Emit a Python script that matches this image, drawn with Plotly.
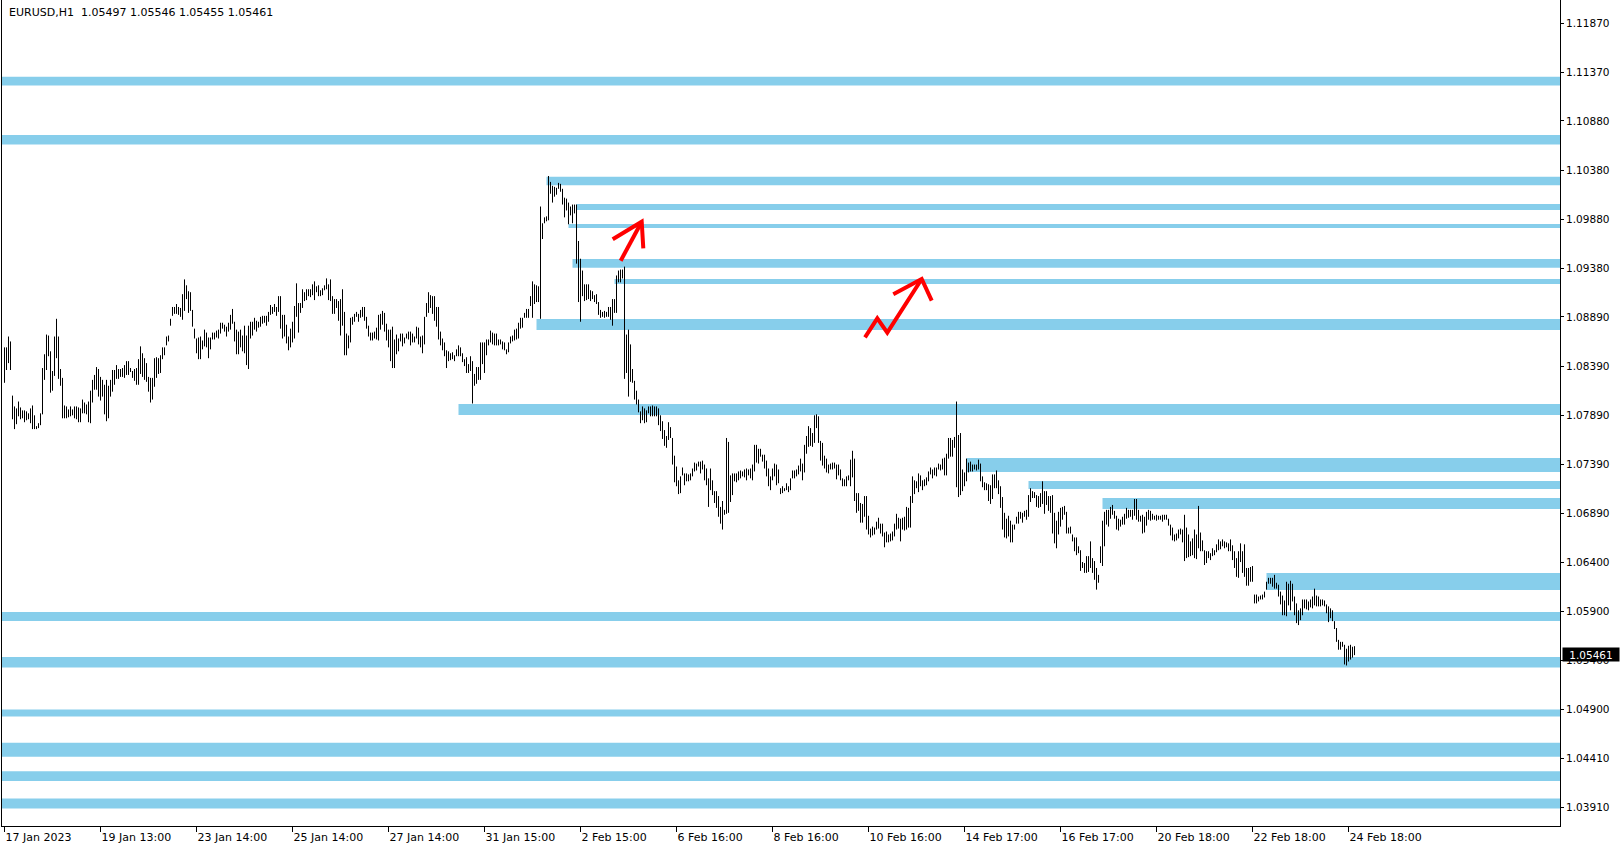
import plotly.graph_objects as go

# ---------------- data ----------------
symbol_title = "EURUSD,H1\u00a0\u00a01.05497 1.05546 1.05455 1.05461"
last_price = 1.05461

highs = [
    1.0858,1.0858,1.0869,1.0864,1.0809,1.0798,1.0796,1.0803,1.0797,1.0794,
    1.0794,1.0793,1.0791,1.0796,1.0799,1.0789,1.0778,1.0781,1.0791,1.0837,
    1.0851,1.0871,1.0870,1.0854,1.0834,1.0869,1.0887,1.0869,1.0836,1.0827,
    1.0799,1.0798,1.0795,1.0798,1.0795,1.0798,1.0798,1.0797,1.0796,1.0805,
    1.0802,1.0800,1.0803,1.0814,1.0825,1.0830,1.0838,1.0836,1.0828,1.0825,
    1.0820,1.0825,1.0819,1.0825,1.0835,1.0835,1.0840,1.0836,1.0836,1.0837,
    1.0840,1.0844,1.0844,1.0837,1.0834,1.0836,1.0837,1.0846,1.0859,1.0852,
    1.0847,1.0842,1.0828,1.0827,1.0827,1.0847,1.0848,1.0847,1.0850,1.0858,
    1.0858,1.0869,1.0870,1.0887,1.0899,1.0899,1.0902,1.0899,1.0898,1.0912,
    1.0927,1.0921,1.0915,1.0914,1.0896,1.0877,1.0867,1.0868,1.0869,1.0865,
    1.0876,1.0873,1.0868,1.0868,1.0873,1.0873,1.0875,1.0876,1.0883,1.0883,
    1.0881,1.0879,1.0883,1.0891,1.0897,1.0884,1.0876,1.0874,1.0876,1.0870,
    1.0880,1.0870,1.0880,1.0884,1.0884,1.0888,1.0885,1.0884,1.0889,1.0890,1.0890,
    1.0890,1.0894,1.0901,1.0899,1.0902,1.0899,1.0910,1.0910,1.0891,1.0891,
    1.0881,1.0869,1.0877,1.0884,1.0900,1.0923,1.0903,1.0903,1.0917,1.0914,
    1.0917,1.0917,1.0917,1.0922,1.0925,1.0920,1.0921,1.0916,1.0918,1.0921,
    1.0928,1.0922,1.0927,1.0910,1.0907,1.0907,1.0905,1.0907,1.0917,1.0894,
    1.0872,1.0870,1.0888,1.0889,1.0892,1.0894,1.0892,1.0896,1.0899,1.0899,
    1.0889,1.0880,1.0873,1.0873,1.0874,1.0878,1.0891,1.0892,1.0895,1.0893,
    1.0882,1.0876,1.0876,1.0879,1.0866,1.0871,1.0867,1.0872,1.0872,1.0868,
    1.0872,1.0874,1.0874,1.0872,1.0869,1.0879,1.0878,1.0869,1.0870,1.0889,
    1.0903,1.0914,1.0911,1.0910,1.0910,1.0899,1.0899,1.0874,1.0867,1.0863,
    1.0855,1.0854,1.0852,1.0853,1.0850,1.0856,1.0860,1.0858,1.0852,1.0846,
    1.0848,1.0841,1.0849,1.0844,1.0831,1.0838,1.0838,1.0863,1.0863,1.0863,
    1.0866,1.0866,1.0875,1.0873,1.0872,1.0872,1.0866,1.0866,1.0864,1.0863,
    1.0856,1.0863,1.0869,1.0870,1.0876,1.0877,1.0883,1.0888,1.0888,1.0893,
    1.0897,1.0897,1.0910,1.0925,
    1.0922,1.0921,1.0920,1.1001,1.0984,1.0990,1.0991,1.1032,1.1026,1.1022,
    1.1021,1.1020,1.1025,1.1024,1.1019,1.1010,1.1009,1.1005,1.1001,1.1003,
    1.1003,1.1003,1.0966,1.0948,1.0936,1.0922,1.0922,1.0922,1.0916,1.0915,
    1.0911,1.0912,1.0904,1.0896,1.0894,1.0895,1.0894,1.0899,1.0899,1.0907,
    1.0907,1.0931,1.0936,1.0937,1.0937,1.0940,1.0871,1.0876,1.0861,1.0836,
    1.0824,1.0814,1.0805,1.0793,1.0798,1.0796,1.0794,1.0798,1.0798,1.0799,
    1.0798,1.0798,1.0796,1.0789,1.0783,1.0774,1.0768,1.0782,1.0777,1.0766,
    1.0748,1.0737,1.0723,1.0727,1.0736,1.0730,1.0730,1.0729,1.0730,1.0735,
    1.0741,1.0740,1.0742,1.0742,1.0743,1.0739,1.0735,1.0725,1.0735,1.0723,
    1.0712,1.0712,1.0707,1.0696,1.0702,1.0693,1.0766,1.0762,1.0728,1.0730,
    1.0730,1.0730,1.0732,1.0733,1.0732,1.0734,1.0735,1.0734,1.0735,1.0739,
    1.0759,1.0759,1.0755,1.0755,1.0749,1.0749,1.0743,1.0735,1.0727,1.0735,
    1.0740,1.0739,1.0734,1.0715,1.0717,1.0715,1.0720,1.0717,1.0725,1.0733,
    1.0733,1.0734,1.0738,
    1.0745,1.0740,1.0759,1.0768,1.0778,1.0776,1.0771,1.0789,1.0790,1.0788,
    1.0763,1.0761,1.0748,1.0745,1.0739,1.0740,1.0741,1.0741,1.0739,1.0739,
    1.0734,1.0725,1.0724,1.0727,1.0728,1.0744,1.0753,1.0745,1.0710,1.0710,
    1.0700,1.0699,1.0707,1.0707,1.0687,1.0674,1.0676,1.0675,1.0681,1.0685,
    1.0679,1.0679,1.0670,1.0671,1.0668,1.0669,1.0671,1.0679,1.0689,1.0685,
    1.0684,1.0685,1.0686,1.0696,1.0695,1.0707,1.0727,1.0723,1.0722,1.0730,
    1.0728,1.0723,1.0724,1.0726,1.0732,1.0736,1.0734,1.0736,1.0736,1.0740,
    1.0739,1.0745,1.0746,1.0750,1.0766,1.0766,1.0764,1.0767,1.0803,1.0769,
    1.0771,1.0734,1.0731,1.0745,1.0741,1.0742,1.0739,1.0739,1.0739,1.0744,
    1.0740,1.0727,1.0721,1.0720,1.0719,1.0718,1.0729,1.0729,1.0733,1.0723,
    1.0717,1.0706,1.0690,1.0684,1.0687,1.0682,1.0678,1.0678,1.0686,1.0691,
    1.0691,1.0690,1.0692,1.0693,1.0708,1.0715,1.0712,1.0711,1.0708,1.0707,
    1.0710,1.0722,1.0712,1.0712,1.0707,1.0707,1.0708,1.0690,1.0682,1.0691,
    1.0695,1.0696,1.0697,1.0691,1.0675,
    1.0676,1.0668,1.0665,1.0665,1.0656,1.0652,1.0640,1.0639,1.0646,1.0646,
    1.0661,1.0644,1.0641,1.0634,1.0627,1.0656,1.0682,1.0691,1.0693,1.0693,
    1.0696,1.0698,1.0692,1.0687,1.0684,1.0683,1.0686,1.0689,1.0695,1.0693,
    1.0693,1.0693,1.0704,1.0704,1.0693,1.0687,1.0688,1.0686,1.0691,1.0693,
    1.0692,1.0689,1.0687,1.0688,1.0687,1.0687,1.0688,1.0688,1.0688,1.0684,
    1.0678,1.0675,1.0668,1.0669,1.0673,1.0674,1.0673,1.0688,1.0675,1.0668,
    1.0661,1.0664,1.0673,1.0668,1.0697,1.0670,1.0662,1.0652,1.0651,1.0651,
    1.0649,1.0654,1.0652,1.0658,1.0663,1.0661,1.0663,1.0661,1.0660,1.0659,
    1.0663,1.0657,1.0651,1.0644,1.0651,1.0659,1.0651,1.0658,1.0634,1.0634,
    1.0635,1.0636,1.0607,1.0607,1.0605,1.0606,1.0607,1.0610,1.0620,1.0624,
    1.0624,1.0624,1.0627,1.0619,1.0617,1.0610,1.0606,1.0601,1.0620,1.0618,
    1.0621,1.0618,1.0605,1.0598,1.0591,1.0593,1.0602,1.0602,1.0602,1.0600,
    1.0602,1.0605,1.0613,1.0606,1.0605,1.0602,1.0602,1.0601,1.0597,1.0595,
    1.0593,1.0591,1.0580,1.0573,1.0561,1.0559,1.0559,
    1.0556,1.0552,1.0555,1.0556,1.0554,1.05546,
]

lows = [
    1.0822,1.0835,1.0842,1.0835,1.0785,1.0775,1.0780,1.0788,1.0785,1.0786,
    1.0782,1.0784,1.0785,1.0781,1.0775,1.0775,1.0775,1.0776,1.0779,1.0790,
    1.0825,1.0835,1.0849,1.0812,1.0814,1.0829,1.0847,1.0826,1.0819,1.0786,
    1.0786,1.0786,1.0787,1.0788,1.0789,1.0786,1.0785,1.0782,1.0782,1.0791,
    1.0791,1.0790,1.0782,1.0781,1.0802,1.0815,1.0815,1.0808,1.0804,1.0808,
    1.0790,1.0783,1.0786,1.0808,1.0813,1.0820,1.0826,1.0826,1.0828,1.0828,
    1.0827,1.0830,1.0830,1.0833,1.0827,1.0824,1.0820,1.0820,1.0831,1.0828,
    1.0825,1.0823,1.0813,1.0802,1.0805,1.0818,1.0827,1.0831,1.0832,1.0846,
    1.0850,1.0860,1.0864,1.0880,1.0890,1.0892,1.0892,1.0891,1.0889,1.0886,
    1.0895,1.0907,1.0893,1.0895,1.0879,1.0867,1.0852,1.0846,1.0846,1.0856,
    1.0859,1.0858,1.0847,1.0856,1.0866,1.0866,1.0868,1.0867,1.0872,1.0877,
    1.0874,1.0869,1.0874,1.0876,1.0882,1.0864,1.0851,1.0851,1.0858,1.0854,
    1.0852,1.0840,1.0836,1.0867,1.0870,1.0876,1.0874,1.0878,1.0879,1.0882,1.0883,
    1.0880,1.0884,1.0891,1.0892,1.0894,1.0890,1.0894,1.0877,1.0867,1.0869,
    1.0862,1.0855,1.0858,1.0863,1.0867,1.0889,1.0873,1.0893,1.0898,1.0905,
    1.0906,1.0910,1.0909,1.0911,1.0906,1.0914,1.0910,1.0910,1.0911,1.0916,
    1.0917,1.0906,1.0905,1.0892,1.0892,1.0898,1.0885,1.0870,1.0880,1.0850,
    1.0850,1.0857,1.0863,1.0881,1.0884,1.0889,1.0884,1.0888,1.0889,1.0885,
    1.0877,1.0869,1.0865,1.0865,1.0867,1.0866,1.0865,1.0876,1.0881,1.0874,
    1.0865,1.0858,1.0844,1.0837,1.0837,1.0851,1.0854,1.0864,1.0859,1.0862,
    1.0867,1.0866,1.0860,1.0863,1.0863,1.0867,1.0861,1.0858,1.0852,1.0861,
    1.0889,1.0893,1.0898,1.0892,1.0885,1.0879,1.0866,1.0860,1.0855,1.0849,
    1.0837,1.0844,1.0845,1.0846,1.0844,1.0849,1.0849,1.0849,1.0843,1.0839,
    1.0832,1.0832,1.0834,1.0801,1.0819,1.0821,1.0825,1.0825,1.0841,1.0832,
    1.0850,1.0860,1.0863,1.0861,1.0860,1.0860,1.0860,1.0861,1.0856,1.0855,
    1.0851,1.0853,1.0862,1.0864,1.0865,1.0866,1.0867,1.0877,1.0878,1.0888,
    1.0888,1.0888,1.0900,1.0888,
    1.0902,1.0904,1.0904,1.0887,1.0968,1.0984,1.0986,1.0987,1.1014,1.1005,
    1.1011,1.1013,1.1019,1.1016,1.1003,1.0990,1.0997,1.0983,1.0992,1.0984,
    1.0994,1.0943,1.0904,1.0884,1.0910,1.0905,1.0906,1.0907,1.0905,1.0907,
    1.0904,1.0902,1.0891,1.0888,1.0889,1.0888,1.0889,1.0889,1.0886,1.0880,
    1.0893,1.0893,1.0924,1.0924,1.0928,1.0826,1.0832,1.0808,1.0823,1.0822,
    1.0805,1.0800,1.0792,1.0781,1.0784,1.0781,1.0782,1.0791,1.0788,1.0788,
    1.0788,1.0788,1.0779,1.0773,1.0765,1.0758,1.0756,1.0764,1.0766,1.0739,
    1.0721,1.0717,1.0709,1.0710,1.0728,1.0718,1.0722,1.0722,1.0723,1.0727,
    1.0732,1.0733,1.0737,1.0730,1.0734,1.0723,1.0718,1.0696,1.0713,1.0708,
    1.0700,1.0695,1.0686,1.0679,1.0673,1.0688,1.0689,1.0690,1.0701,1.0708,
    1.0722,1.0721,1.0723,1.0725,1.0727,1.0726,1.0723,1.0728,1.0725,1.0723,
    1.0732,1.0741,1.0740,1.0747,1.0742,1.0735,1.0727,1.0717,1.0713,1.0723,
    1.0727,1.0718,1.0720,1.0709,1.0710,1.0712,1.0713,1.0711,1.0713,1.0725,
    1.0725,1.0727,1.0729,
    1.0732,1.0723,1.0731,1.0750,1.0757,1.0758,1.0757,1.0761,1.0776,1.0761,
    1.0743,1.0738,1.0735,1.0731,1.0730,1.0734,1.0734,1.0735,1.0724,1.0728,
    1.0723,1.0717,1.0717,1.0717,1.0723,1.0717,1.0726,1.0702,1.0690,1.0692,
    1.0680,1.0680,1.0686,1.0673,1.0668,1.0665,1.0667,1.0668,1.0673,1.0674,
    1.0669,1.0666,1.0655,1.0660,1.0660,1.0661,1.0662,1.0666,1.0673,1.0674,
    1.0661,1.0673,1.0672,1.0673,1.0675,1.0675,1.0700,1.0709,1.0715,1.0711,
    1.0717,1.0713,1.0717,1.0718,1.0722,1.0729,1.0725,1.0728,1.0727,1.0734,
    1.0733,1.0734,1.0728,1.0728,1.0745,1.0747,1.0747,1.0756,1.0716,1.0706,
    1.0708,1.0712,1.0717,1.0722,1.0731,1.0732,1.0732,1.0734,1.0733,1.0734,
    1.0722,1.0716,1.0713,1.0713,1.0702,1.0699,1.0704,1.0715,1.0715,1.0709,
    1.0695,1.0673,1.0665,1.0664,1.0666,1.0660,1.0660,1.0673,1.0679,1.0679,
    1.0684,1.0680,1.0686,1.0683,1.0686,1.0701,1.0705,1.0705,1.0696,1.0695,
    1.0696,1.0699,1.0689,1.0698,1.0692,1.0690,1.0669,1.0659,1.0654,1.0668,
    1.0676,1.0683,1.0688,1.0669,1.0669,
    1.0669,1.0661,1.0651,1.0647,1.0649,1.0631,1.0634,1.0629,1.0629,1.0630,
    1.0634,1.0629,1.0622,1.0612,1.0619,1.0639,1.0636,1.0656,1.0678,1.0676,
    1.0684,1.0688,1.0684,1.0673,1.0672,1.0676,1.0678,1.0678,1.0684,1.0685,
    1.0686,1.0683,1.0687,1.0683,1.0681,1.0681,1.0669,1.0670,1.0677,1.0683,
    1.0682,1.0683,1.0683,1.0682,1.0683,1.0683,1.0681,1.0683,1.0683,1.0677,
    1.0667,1.0662,1.0661,1.0662,1.0664,1.0668,1.0660,1.0641,1.0644,1.0645,
    1.0646,1.0647,1.0644,1.0643,1.0654,1.0651,1.0651,1.0637,1.0639,1.0644,
    1.0642,1.0646,1.0647,1.0650,1.0652,1.0653,1.0656,1.0654,1.0655,1.0651,
    1.0651,1.0642,1.0634,1.0625,1.0624,1.0640,1.0629,1.0625,1.0616,1.0616,
    1.0620,1.0620,1.0598,1.0598,1.0600,1.0602,1.0602,1.0604,1.0612,1.0618,
    1.0618,1.0615,1.0613,1.0613,1.0605,1.0597,1.0586,1.0586,1.0585,1.0596,
    1.0591,1.0600,1.0586,1.0578,1.0576,1.0581,1.0586,1.0593,1.0592,1.0591,
    1.0594,1.0593,1.0596,1.0595,1.0595,1.0595,1.0596,1.0595,1.0588,1.0579,
    1.0583,1.0580,1.0572,1.0559,1.0551,1.0551,1.0554,
    1.0536,1.0535,1.0539,1.0541,1.0543,1.05455,
]

# time-axis labels (bar index of each label)
tick_bars = [0, 48, 96, 144, 192, 240, 288, 336, 384, 432, 480, 528, 576, 624, 672]
tick_labels = ["17 Jan 2023", "19 Jan 13:00", "23 Jan 14:00", "25 Jan 14:00",
               "27 Jan 14:00", "31 Jan 15:00", "2 Feb 15:00", "6 Feb 16:00",
               "8 Feb 16:00", "10 Feb 16:00", "14 Feb 17:00", "16 Feb 17:00",
               "20 Feb 18:00", "22 Feb 18:00", "24 Feb 18:00"]

price_ticks = [1.11870, 1.11370, 1.10880, 1.10380, 1.09880, 1.09380, 1.08890,
               1.08390, 1.07890, 1.07390, 1.06890, 1.06400, 1.05900, 1.05400,
               1.04900, 1.04410, 1.03910]

# support / resistance zones (start bar, None = whole chart)
zone_start = [None, None, 271, 286, 282, 284, 305, 266, 227, 481, 512, 549, 631,
              None, None, None, None, None, None]
zone_top = [1.11328, 1.10736, 1.10313, 1.10035, 1.09832, 1.09477, 1.09274, 1.08868,
            1.08005, 1.07457, 1.07223, 1.07050, 1.06289, 1.05893, 1.05436, 1.04903,
            1.04566, 1.04276, 1.03999]
zone_bottom = [1.11240, 1.10641, 1.10225, 1.09974, 1.09792, 1.09389, 1.09223, 1.08756,
               1.07893, 1.07314, 1.07142, 1.06939, 1.06116, 1.05802, 1.05329, 1.04832,
               1.04424, 1.04177, 1.03898]

# hand-drawn red arrows (bar index, price)
arrow1_bar = [308.1, 318.6, None, 304.1, 318.6, 319.4]
arrow1_price = [1.09460, 1.09856, None, 1.09677, 1.09856, 1.09586]
arrow2_bar = [430.25, 436.4, 441.4, 458.6, None, 444.4, 458.6, 463.6]
arrow2_price = [1.08682, 1.08875, 1.08729, 1.09274, None, 1.09119, 1.09274, 1.09054]

# ---------------- figure ----------------
X_MIN, X_MAX = -1.25, 777.75
Y_MIN, Y_MAX = 1.03720, 1.12107
FONT = "DejaVu Sans"

n = min(len(highs), len(lows))
bx, by = [], []
for j in range(n):
    bx += [j, j, None]
    by += [lows[j], highs[j], None]

fig = go.Figure()
fig.add_trace(go.Scatter(x=bx, y=by, mode="lines",
                         line=dict(color="black", width=1),
                         hoverinfo="skip", showlegend=False))
for ax, ay in ((arrow1_bar, arrow1_price), (arrow2_bar, arrow2_price)):
    fig.add_trace(go.Scatter(x=ax, y=ay, mode="lines",
                             line=dict(color="#FF0000", width=4),
                             hoverinfo="skip", showlegend=False))

shapes = []
for s, t, b in zip(zone_start, zone_top, zone_bottom):
    shapes.append(dict(type="rect", xref="x", yref="y",
                       x0=X_MIN if s is None else s, x1=X_MAX,
                       y0=b, y1=t, fillcolor="#87CEEB",
                       line=dict(width=0), layer="below"))

fig.update_layout(
    width=1624, height=850,
    margin=dict(l=2, r=64, t=0, b=24),
    paper_bgcolor="white", plot_bgcolor="white",
    showlegend=False,
    shapes=shapes,
    font=dict(family=FONT, color="black"),
    xaxis=dict(range=[X_MIN, X_MAX], showgrid=False, zeroline=False,
               showline=True, linecolor="black", linewidth=1,
               ticks="outside", ticklen=5, tickcolor="black",
               tickvals=tick_bars, ticktext=tick_labels,
               ticklabelposition="outside right", ticklabelstandoff=1,
               tickfont=dict(family=FONT, size=11, color="black")),
    yaxis=dict(range=[Y_MIN, Y_MAX], side="right", showgrid=False,
               zeroline=False, showline=True, mirror=True,
               linecolor="black", linewidth=1,
               ticks="outside", ticklen=3, tickcolor="black",
               tickvals=price_ticks,
               ticktext=[f"{v:.5f}" for v in price_ticks],
               tickfont=dict(family=FONT, size=10.5, color="black")),
    annotations=[
        dict(text=symbol_title, xref="paper", yref="paper", x=0, y=1,
             xanchor="left", yanchor="top", xshift=5, yshift=-4,
             showarrow=False, font=dict(family=FONT, size=11, color="black")),
        dict(text=f"{last_price:.5f}", xref="paper", yref="y", x=1,
             y=last_price, xanchor="left", yanchor="middle", xshift=2,
             showarrow=False, bgcolor="black", width=56, height=13,
             borderpad=0, font=dict(family=FONT, size=10.5, color="white")),
    ],
)

fig.write_html(
    "out.html",
    config={"displayModeBar": False},
    post_script="document.body.style.margin='0';document.body.style.overflow='hidden';",
)
